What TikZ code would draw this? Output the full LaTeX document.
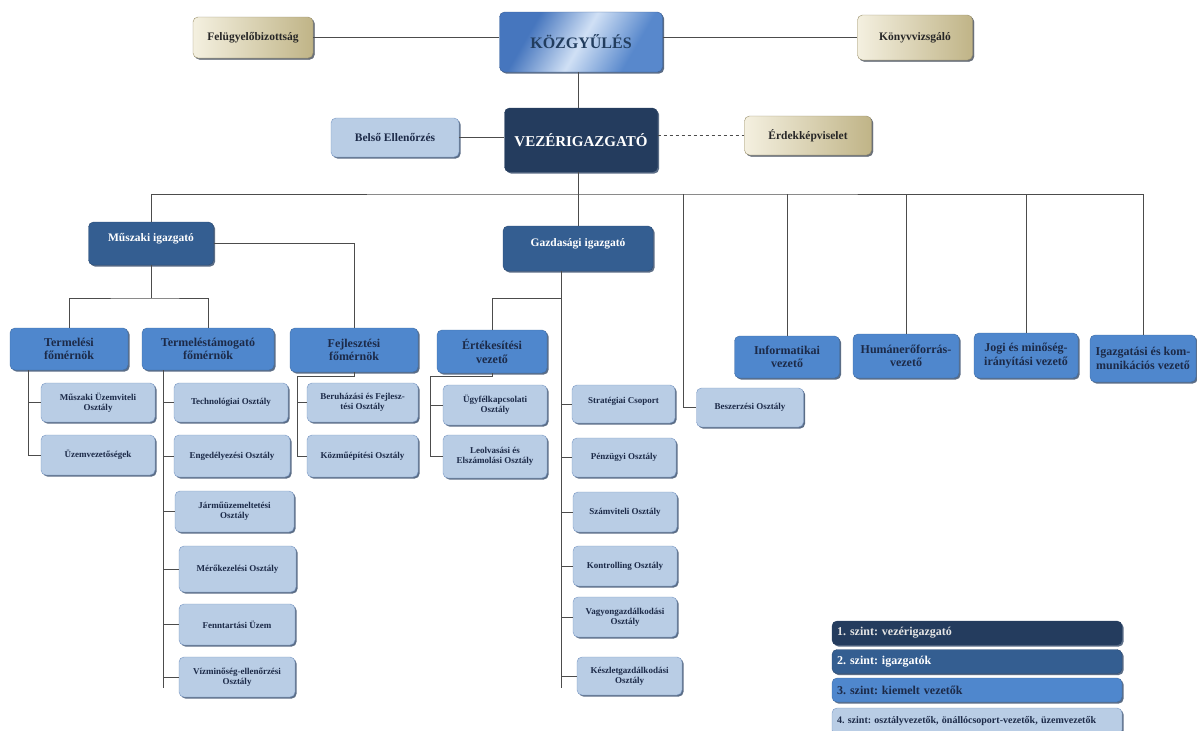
\documentclass[tikz,border=0pt]{standalone}
\usepackage{fontspec}
\setmainfont{Liberation Serif}
\usepackage{tikz}
\usetikzlibrary{arrows.meta,shadows}
\definecolor{lvone}{RGB}{36,60,94}
\definecolor{lvtwo}{RGB}{52,94,145}
\definecolor{lvthree}{RGB}{79,135,205}
\definecolor{lvfour}{RGB}{185,205,229}
\definecolor{lvfourline}{RGB}{120,150,195}
\definecolor{navytext}{RGB}{28,42,72}
\definecolor{tanlight}{RGB}{244,240,224}
\definecolor{tandark}{RGB}{192,180,135}
\definecolor{kozA}{RGB}{70,118,190}
\definecolor{kozB}{RGB}{208,224,245}
\definecolor{kozC}{RGB}{88,136,204}
\pgfdeclarehorizontalshading{kozshade}{100bp}{color(0bp)=(kozA); color(30bp)=(kozA);
  color(50bp)=(kozB); color(70bp)=(kozC); color(100bp)=(kozC)}
\frenchspacing

\begin{document}
\begin{tikzpicture}[>=Stealth, x=1pt, y=-1pt,
    box/.style={rounded corners=5pt, align=center, inner sep=2pt,
      drop shadow={shadow xshift=1.6pt, shadow yshift=-1.6pt, fill=lvone, opacity=0.75}},
    lone/.style={box, fill=lvone, draw=lvone, text=white},
    ltwo/.style={box, fill=lvtwo, draw=lvtwo!80!black, text=white,
      font=\bfseries\fontsize{11.5}{13}\selectfont, text height=7pt, text depth=11pt},
    lthree/.style={box, fill=lvthree, draw=lvthree!80!black, text=navytext,
      font=\bfseries\fontsize{12}{13.5}\selectfont},
    lfour/.style={box, fill=lvfour, draw=lvfourline, text=navytext,
      minimum width=114pt, minimum height=40pt,
      font=\bfseries\fontsize{9}{10}\selectfont},
    tanbox/.style={box, left color=tanlight, right color=tandark, draw=tandark!80!black,
      text=black!85, font=\bfseries\fontsize{11.5}{13}\selectfont,
      drop shadow={shadow xshift=1.6pt, shadow yshift=-1.6pt, fill=black!55, opacity=0.7}},
    legend/.style={box, minimum width=290pt, text width=280pt, align=left,
      minimum height=24pt, inner xsep=5pt},
    conn/.style={draw=black!70, line width=0.7pt}]
  \useasboundingbox (0,0) rectangle (1197,731);

  \node [tanbox, minimum width=120pt, minimum height=41pt] (felugy) at (253,37.5) {Felügyelőbizottság};
  \node [box, minimum width=163pt, minimum height=60pt, draw=kozA!80!black,
    shading=kozshade, shading angle=-30,
    text=lvtwo!65!black, font=\bfseries\fontsize{16}{18}\selectfont] (kozgy) at (581,42) {KÖZGYŰLÉS};
  \node [tanbox, minimum width=115pt, minimum height=45pt] (konyv) at (915,37.5) {Könyvvizsgáló};

  \node [box, fill=lvfour, draw=lvfourline, text=navytext, minimum width=128pt, minimum height=39pt,
    font=\bfseries\fontsize{11.5}{13}\selectfont] (belso) at (395,137.5) {Belső Ellenőrzés};
  \node [lone, minimum width=153pt, minimum height=64pt,
    font=\bfseries\fontsize{15}{17}\selectfont] (vezer) at (581,140) {VEZÉRIGAZGATÓ};
  \node [tanbox, minimum width=127pt, minimum height=39pt] (erdek) at (808,135.5) {Érdekképviselet};

  \node [ltwo, minimum width=125pt, minimum height=43pt] (muszaki) at (151,243.5) {Műszaki igazgató};
  \node [ltwo, minimum width=150pt, minimum height=45pt] (gazd) at (578,248.5) {Gazdasági igazgató};

  \node [lthree, minimum width=118pt, minimum height=42pt] (termel) at (69,349) {Termelési\\főmérnök};
  \node [lthree, minimum width=132pt, minimum height=42pt] (tamog) at (208,349) {Termeléstámogató\\főmérnök};
  \node [lthree, minimum width=128pt, minimum height=44pt] (fejl) at (354,350) {Fejlesztési\\főmérnök};
  \node [lthree, minimum width=110pt, minimum height=43pt] (ertek) at (492,351.5) {Értékesítési\\vezető};
  \node [lthree, minimum width=105pt, minimum height=42pt] (info) at (787,357) {Informatikai\\vezető};
  \node [lthree, minimum width=106pt, minimum height=44pt] (human) at (906,356) {Humánerőforrás-\\vezető};
  \node [lthree, minimum width=104pt, minimum height=45pt] (jogi) at (1026,355.5) {Jogi és minőség-\\irányítási vezető};
  \node [lthree, minimum width=106pt, minimum height=47pt] (igazg) at (1143,358.5) {Igazgatási és kom-\\munikációs vezető};

  \node [lfour, minimum width=107pt, minimum height=39pt] (beszerz) at (750,407.5) {Beszerzési Osztály};
  \node [lfour, minimum height=39pt] (muzem) at (98,402.5) {Műszaki Üzemviteli\\Osztály};
  \node [lfour] (uzemv) at (98,455) {Üzemvezetőségek};
  \node [lfour, minimum height=39pt] (techn) at (231,402.5) {Technológiai Osztály};
  \node [lfour, minimum width=116pt, minimum height=42pt] (enged) at (232,456) {Engedélyezési Osztály};
  \node [lfour, minimum width=119pt, minimum height=41pt] (jarmu) at (234.5,511.5) {Járműüzemeltetési\\Osztály};
  \node [lfour, minimum width=117pt, minimum height=46pt] (mero) at (237.5,569) {Mérőkezelési Osztály};
  \node [lfour, minimum width=116pt, minimum height=41pt] (fennt) at (237,624.5) {Fenntartási Üzem};
  \node [lfour, minimum width=116pt] (vizm) at (237,677) {Vízminőség-ellenőrzési\\Osztály};
  \node [lfour, minimum width=111pt, minimum height=39pt] (beruh) at (362.5,402.5) {Beruházási és Fejlesz-\\tési Osztály};
  \node [lfour, minimum width=111pt, minimum height=42pt] (kozmu) at (362.5,456) {Közműépítési Osztály};
  \node [lfour, minimum width=104pt] (ugyf) at (495,405) {Ügyfélkapcsolati\\Osztály};
  \node [lfour, minimum width=104pt, minimum height=43pt] (leolv) at (495,456.5) {Leolvasási és\\Elszámolási Osztály};
  \node [lfour, minimum width=103pt, minimum height=38pt, text height=7pt, text depth=8pt] (strat) at (623.5,404) {Stratégiai Csoport};
  \node [lfour, minimum width=104pt, minimum height=39pt] (penz) at (624,457.5) {Pénzügyi Osztály};
  \node [lfour, minimum width=104pt] (szamv) at (625,512) {Számviteli Osztály};
  \node [lfour, minimum width=104pt] (kontr) at (625,566) {Kontrolling Osztály};
  \node [lfour, minimum width=104pt] (vagyon) at (625,617) {Vagyongazdálkodási\\Osztály};
  \node [lfour, minimum width=105pt, minimum height=38pt] (keszl) at (629.5,676) {Készletgazdálkodási\\Osztály};

  \coordinate (bus) at (578,194);
  \coordinate (beszbus) at (683,194);
  \coordinate (msplit) at (151,298);
  \coordinate (tsp) at (28,370);
  \coordinate (ssp) at (163,688);
  \coordinate (fsp) at (297,376);
  \coordinate (gsplit) at (561,298);
  \coordinate (gsp) at (561,688);
  \coordinate (esp) at (430,376);

  \draw [conn] (felugy.east) -- (felugy.east -| kozgy.west);
  \draw [conn] (kozgy.east |- konyv.west) -- (konyv.west);
  \draw [conn] (kozgy.south -| bus) -- (vezer.north -| bus);
  \draw [conn] (belso.east) -- (belso.east -| vezer.west);
  \draw [conn, dashed] (vezer.east |- erdek.west) -- (erdek.west);
  \draw [conn] (vezer.south -| bus) -- (bus);
  \draw [conn] (muszaki.north) |- (bus) -| (igazg.north);
  \draw [conn] (gazd.north) -- (gazd.north |- bus);
  \foreach \n in {info,human,jogi}
    \draw [conn] (\n.north) -- (\n.north |- bus);
  \draw [conn] (beszbus) |- (beszerz.west);

  \draw [conn] (muszaki.east) -| (fejl.north);
  \draw [conn] (muszaki.south) -- (msplit);
  \draw [conn] (termel.north) |- (msplit) -| (tamog.north);
  \draw [conn] (tsp) |- (uzemv.west);
  \draw [conn] (muzem.west -| tsp) -- (muzem.west);
  \draw [conn] (tamog.south -| ssp) -- (ssp);
  \foreach \n in {techn,enged,jarmu,mero,fennt,vizm}
    \draw [conn] (\n.west -| ssp) -- (\n.west);
  \draw [conn] (fejl.south) |- (fsp) |- (kozmu.west);
  \draw [conn] (beruh.west -| fsp) -- (beruh.west);

  \draw [conn] (gazd.south -| gsplit) -- (gsp);
  \draw [conn] (gsplit) -| (ertek.north);
  \foreach \n in {strat,penz,szamv,kontr,vagyon,keszl}
    \draw [conn] (\n.west -| gsp) -- (\n.west);
  \draw [conn] (ertek.south) |- (esp) |- (leolv.west);
  \draw [conn] (ugyf.west -| esp) -- (ugyf.west);

  \node [legend, fill=lvone, draw=lvone, text=white!90!black,
    font=\bfseries\fontsize{12}{13}\selectfont] (legone) at (977,633) {1. szint: vezérigazgató};
  \node [legend, fill=lvtwo, draw=lvtwo!80!black, text=white,
    font=\bfseries\fontsize{12}{13}\selectfont] (legtwo) at (977,661.5) {2. szint: igazgatók};
  \node [legend, fill=lvthree, draw=lvthree!80!black, text=navytext,
    font=\bfseries\fontsize{12}{13}\selectfont] (legthree) at (977,690) {3. szint: kiemelt vezetők};
  \node [legend, fill=lvfour, draw=lvfourline, text=navytext, minimum height=27pt,
    font=\bfseries\fontsize{10}{11}\selectfont] (legfour) at (977,721.5) {4. szint: osztályvezetők, önállócsoport-vezetők, üzemvezetők};
\end{tikzpicture}
\end{document}
